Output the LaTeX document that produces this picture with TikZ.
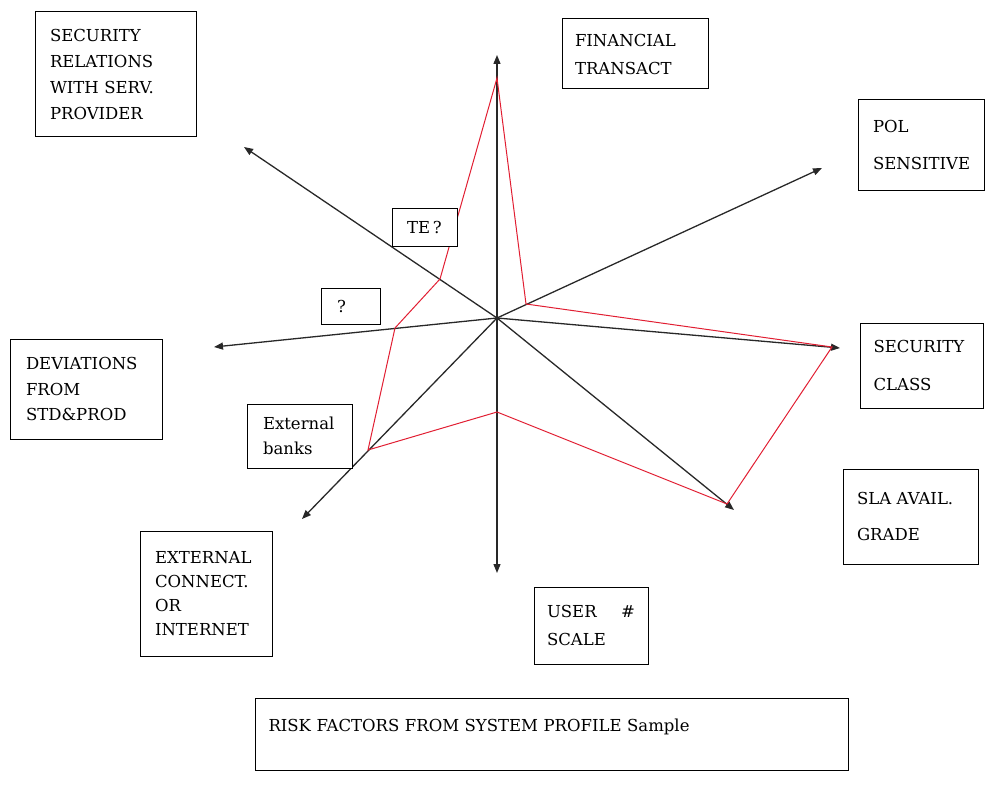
\documentclass[tikz,border=0pt]{standalone}
\usepackage{fontspec}
\setmainfont{DejaVu Serif}
\usetikzlibrary{arrows.meta}
\definecolor{axisgray}{RGB}{40,40,40}
\definecolor{profred}{RGB}{225,30,50}
\newcommand{\fsz}{16.5}
\begin{document}
\begin{tikzpicture}[x=1pt,y=-1pt,
  axis/.style={draw=axisgray,line width=1.3pt,-{Triangle[length=9pt,width=7pt]}},
  profile/.style={draw=profred,line width=1pt,line join=miter},
  factor/.style={draw=black,line width=1pt,fill=white,align=left,
    font=\fontsize{\fsz}{18}\selectfont,inner ysep=0pt},
  note/.style={draw=black,line width=1pt,fill=white,
    font=\fontsize{\fsz}{18}\selectfont,inner sep=0pt}]
\useasboundingbox (0,0) rectangle (985,789);

% hub of the star and the ends of its axes
\coordinate (c) at (497,318);
\coordinate (tFin) at (497,55);
\coordinate (tPol) at (822,168);
\coordinate (tSec) at (840,348);
\coordinate (tSla) at (734,510);
\coordinate (tUsr) at (497,573);
\coordinate (tExt) at (302,519);
\coordinate (tDev) at (214,347);
\coordinate (tRel) at (244,147);

% sample profile values along each axis
\coordinate (p1) at (497,78);
\coordinate (p2) at (526,304);
\coordinate (p3) at (832,347);
\coordinate (p4) at (727,504);
\coordinate (p5) at (497,412);
\coordinate (p6) at (368,450);
\coordinate (p7) at (395,328);
\coordinate (p8) at (440,279);

% axes
\foreach \t in {tFin,tPol,tSec,tSla,tUsr,tExt,tDev,tRel}
  \draw[axis] (c) -- (\t);

% profile polygon
\draw[profile] (p1) -- (p2) -- (p3) -- (p4) -- (p5) -- (p6) -- (p7) -- (p8) -- cycle;

% factor labels
\node[factor,text width=131pt,inner xsep=15pt,minimum height=125pt,
  font=\fontsize{\fsz}{26}\selectfont] (rel) at (115.5,74.5)
  {SECURITY\\RELATIONS\\WITH SERV.\\PROVIDER};
\node[factor,text width=120pt,inner xsep=13pt,minimum height=70pt,
  font=\fontsize{\fsz}{28}\selectfont] (fin) at (635,54)
  {FINANCIAL\\TRANSACT};
\node[factor,text width=96pt,inner xsep=15pt,minimum height=90pt,
  font=\fontsize{\fsz}{37}\selectfont] (pol) at (921,145)
  {POL\\SENSITIVE};
\node[factor,text width=97pt,inner xsep=13pt,minimum height=85pt,
  font=\fontsize{\fsz}{38}\selectfont] (sec) at (922,365.5)
  {SECURITY\\CLASS};
\node[factor,text width=107pt,inner xsep=14pt,minimum height=95pt,
  font=\fontsize{\fsz}{36}\selectfont] (sla) at (910.5,516.5)
  {SLA AVAIL.\\GRADE};
\node[factor,text width=88pt,inner xsep=13pt,minimum height=77pt,
  font=\fontsize{\fsz}{28}\selectfont] (usr) at (591,625.5)
  {USER\hfill\#\hspace*{4pt}\\SCALE};
\node[factor,text width=102pt,inner xsep=15pt,minimum height=125pt,
  font=\fontsize{\fsz}{24}\selectfont] (ext) at (206,593.5)
  {EXTERNAL\\CONNECT.\\OR\\INTERNET};
\node[factor,text width=120pt,inner xsep=16pt,minimum height=100pt,
  font=\fontsize{\fsz}{25.5}\selectfont] (dev) at (86,389)
  {DEVIATIONS\\FROM\\STD\&PROD};
\node[factor,text width=73pt,inner xsep=16pt,minimum height=64pt,
  font=\fontsize{\fsz}{25}\selectfont] (bnk) at (299.5,436)
  {External\\banks};

% open questions
\node[note,minimum width=65pt,minimum height=38pt] (te) at (424.5,227) {TE\,?};
\node[note,minimum width=59pt,minimum height=36pt,text width=27pt,
  inner xsep=16pt,align=left] (q) at (350.5,306) {?};

% caption
\node[factor,anchor=north west,text width=567pt,inner xsep=13pt,
  text height=25pt,text depth=31pt,inner ysep=8pt] (cap) at (255,698)
  {RISK FACTORS FROM SYSTEM PROFILE Sample};
\end{tikzpicture}
\end{document}
